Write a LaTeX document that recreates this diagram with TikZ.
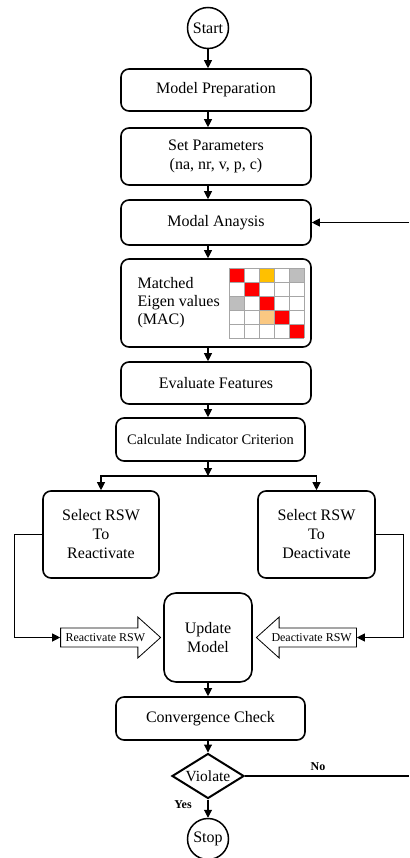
\documentclass[tikz,border=0pt]{standalone}
\usepackage{fontspec}
\setmainfont{Liberation Serif}
\usetikzlibrary{shapes.geometric,shapes.arrows,arrows.meta}
\definecolor{macred}{RGB}{255,0,0}
\definecolor{macgold}{RGB}{255,192,0}
\definecolor{macgray}{RGB}{190,190,190}
\definecolor{macpeach}{RGB}{250,200,130}

\begin{document}
\begin{tikzpicture}[x=1pt,y=-1pt,
	box/.style={draw,line width=1.6pt,rounded corners=8pt,align=center,inner sep=2pt,font=\fontsize{16}{19}\selectfont},
	term/.style={draw,circle,line width=1.5pt,inner sep=0pt,minimum size=41pt,font=\fontsize{16}{19}\selectfont},
	decision/.style={draw,diamond,line width=2pt,inner sep=0pt,minimum width=72pt,minimum height=45pt},
	rswarrow/.style={draw,single arrow,line width=0.8pt,single arrow head extend=11pt,single arrow tip angle=84,inner xsep=2pt,inner ysep=5pt,minimum height=100pt,font=\fontsize{12}{14}\selectfont},
	arr/.style={line width=1.1pt,-{Triangle[length=8pt,width=8pt]}},
	line/.style={line width=1.1pt},
	cell/.style={draw=gray!70,line width=0.5pt}]
		\useasboundingbox (0,0) rectangle (409,858);
		\node[term] (start) at (208,28) {Start};
		\node[box,minimum width=190pt,minimum height=42pt] (prep) at (216,90) {Model Preparation};
		\node[box,minimum width=190pt,minimum height=57pt] (params) at (216,156.5) {Set Parameters\\(na, nr, v, p, c)};
		\node[box,minimum width=190pt,minimum height=45pt] (modal) at (216,222.5) {Modal Anaysis};
		\node[box,minimum width=190pt,minimum height=88pt] (mac) at (216,303) {};
		\node[align=left,anchor=west,font=\fontsize{16}{18}\selectfont] (mactext) at (134,303) {Matched\\Eigen values\\(MAC)};
		\foreach \c/\r/\col in {1/1/macred,2/2/macred,3/3/macred,4/4/macred,5/5/macred,3/1/macgold,5/1/macgray,1/3/macgray,3/4/macpeach}
			\fill[\col] (214+15*\c,254+14*\r) rectangle ++(15,14);
		\foreach \i in {0,...,5}{
			\draw[cell] (229+15*\i,268) -- ++(0,70);
			\draw[cell] (229,268+14*\i) -- ++(75,0);
		}
		\node[box,minimum width=190pt,minimum height=42pt] (feat) at (216,383) {Evaluate Features};
		\node[box,minimum width=189pt,minimum height=43pt,font=\fontsize{14.5}{17}\selectfont] (calc) at (210.5,439.5) {Calculate Indicator Criterion};
		\coordinate (split) at (208,476);
		\node[box,minimum width=116pt,minimum height=87pt] (selR) at (101,534.5) {Select RSW\\To\\Reactivate};
		\node[box,minimum width=117pt,minimum height=87pt] (selD) at (316.5,534.5) {Select RSW\\To\\Deactivate};
		\node[box,minimum width=88pt,minimum height=89pt,rounded corners=12pt] (update) at (208,637.5) {Update\\Model};
		\node[rswarrow,anchor=tip] (react) at ([xshift=-2pt]update.west) {Reactivate RSW};
		\node[rswarrow,shape border rotate=180,anchor=tip] (deact) at ([xshift=3pt]update.east) {Deactivate RSW};
		\node[box,minimum width=189pt,minimum height=43pt] (conv) at (210.5,718.5) {Convergence Check};
		\node[decision,label={[font=\fontsize{15.5}{18}\selectfont]center:Violate}] (violate) at (208,776) {};
		\node[term] (stop) at (208,839) {Stop};
		\node[font=\bfseries\fontsize{12}{14}\selectfont] (no) at (318,767) {No};
		\node[font=\bfseries\fontsize{12}{14}\selectfont] (yes) at (183,805) {Yes};
		\coordinate (loopout) at (409,776);
		\coordinate (loopin) at (409,222.5);
		\draw[arr] (start.south) -- (prep.north -| start);
		\draw[arr] (prep.south -| start) -- (params.north -| start);
		\draw[arr] (params.south -| start) -- (modal.north -| start);
		\draw[arr] (modal.south -| start) -- (mac.north -| start);
		\draw[arr] (mac.south -| start) -- (feat.north -| start);
		\draw[arr] (feat.south -| start) -- (calc.north -| start);
		\draw[arr] (calc.south -| start) -- (split);
		\draw[arr] (split) -| (selR.north);
		\draw[arr] (split) -| (selD.north);
		\draw[arr] (selR.west) -- ++(-28,0) |- (react.tail);
		\draw[arr] (selD.east) -- ++(28,0) |- (deact.tail);
		\draw[arr] (update.south -| start) -- (conv.north -| start);
		\draw[arr] (conv.south -| start) -- (violate.north);
		\draw[arr] (violate.south) -- (stop.north);
		\draw[line] (violate.east) -- (loopout);
		\draw[arr] (loopin) -- (modal.east);
	    \end{tikzpicture}
\end{document}
